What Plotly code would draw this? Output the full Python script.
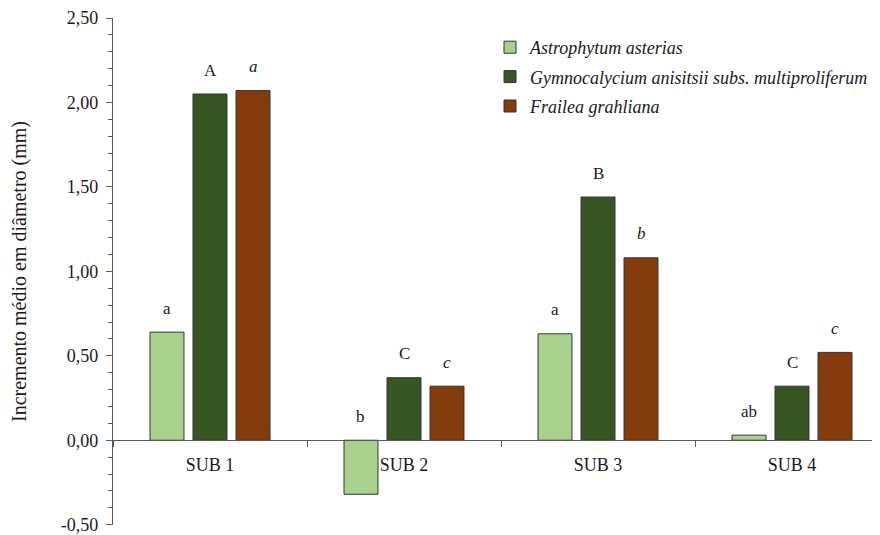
import plotly.graph_objects as go

categories = ["SUB 1", "SUB 2", "SUB 3", "SUB 4"]
series_names = ["Astrophytum asterias",
                "Gymnocalycium anisitsii subs. multiproliferum",
                "Frailea grahliana"]
astro = [0.64, -0.32, 0.63, 0.03]
gymno = [2.05, 0.37, 1.44, 0.32]
frailea = [2.07, 0.32, 1.08, 0.52]
astro_letters = ["a", "b", "a", "ab"]
gymno_letters = ["A", "C", "B", "C"]
frailea_letters = ["a", "c", "b", "c"]
ytick_vals = [-0.5, 0.0, 0.5, 1.0, 1.5, 2.0, 2.5]
ytick_text = ["-0,50", "0,00", "0,50", "1,00", "1,50", "2,00", "2,50"]

colors = ["#A9D18E", "#375623", "#843C0C"]
values = [astro, gymno, frailea]
letters = [astro_letters, gymno_letters, frailea_letters]
italic = [False, False, True]

# page has an 8px body margin; figure sized so it fills 880x535 window
W, H = 872, 527
ML, MR, MT, MB = 105, 0, 10, 10
YR = [-0.502, 2.5]
cat_px = 194.0
plot_w = W - ML - MR
plot_h = H - MT - MB
xr = [-0.5, -0.5 + plot_w / cat_px]
bargap = 0.335
slot_px = cat_px * (1 - bargap) / 3

FONT = "Liberation Serif, Times New Roman, serif"
TXT = "#1a1a1a"
AX = "#595959"

fig = go.Figure()
for i in range(3):
    fig.add_trace(go.Bar(
        x=categories, y=values[i], name="<i>%s</i>" % series_names[i],
        marker=dict(color=colors[i], line=dict(color="#333333", width=1)),
        legendgroup="g%d" % i, hoverinfo="x+y",
    ))

annotations = []
for i in range(3):
    for j, c in enumerate(categories):
        t = letters[i][j]
        annotations.append(dict(
            x=c, y=max(values[i][j], 0), xref="x", yref="y",
            text=("<i>%s</i>" % t) if italic[i] else t,
            showarrow=False, xshift=(i - 1) * slot_px, yshift=24,
            font=dict(family=FONT, size=17, color=TXT),
        ))

fig.update_layout(
    width=W, height=H,
    margin=dict(l=ML, r=MR, t=MT, b=MB, autoexpand=False),
    plot_bgcolor="white", paper_bgcolor="white",
    barmode="group", bargap=bargap, bargroupgap=0.21,
    font=dict(family=FONT, size=18, color=TXT),
    showlegend=True,
    legend=dict(x=(482 - ML) / plot_w, y=1 - (21 - MT) / plot_h,
                xanchor="left", yanchor="top",
                font=dict(family=FONT, size=18, color=TXT),
                tracegroupgap=3, bgcolor="rgba(0,0,0,0)"),
    annotations=annotations,
    xaxis=dict(type="category", range=xr, anchor="free",
               position=(0 - YR[0]) / (YR[1] - YR[0]),
               automargin=False,
               showline=True, linecolor=AX, linewidth=1.2,
               ticks="outside", tickson="boundaries", ticklen=6,
               tickcolor=AX, showgrid=False, zeroline=False,
               ticklabelstandoff=8,
               tickfont=dict(family=FONT, size=18, color=TXT)),
    yaxis=dict(range=YR, tickvals=ytick_vals, ticktext=ytick_text,
               automargin=False,
               showline=True, linecolor=AX, linewidth=1.2,
               ticks="outside", ticklen=6, tickcolor=AX,
               ticklabeloverflow="allow", ticklabelstandoff=4,
               minor=dict(dtick=0.1, ticks="outside", ticklen=4,
                          tickcolor=AX),
               showgrid=False, zeroline=False,
               tickfont=dict(family=FONT, size=18, color=TXT),
               title=dict(text="Incremento médio em diâmetro (mm)",
                          font=dict(family=FONT, size=20, color=TXT),
                          standoff=36)),
)

fig.write_html("out.html")
